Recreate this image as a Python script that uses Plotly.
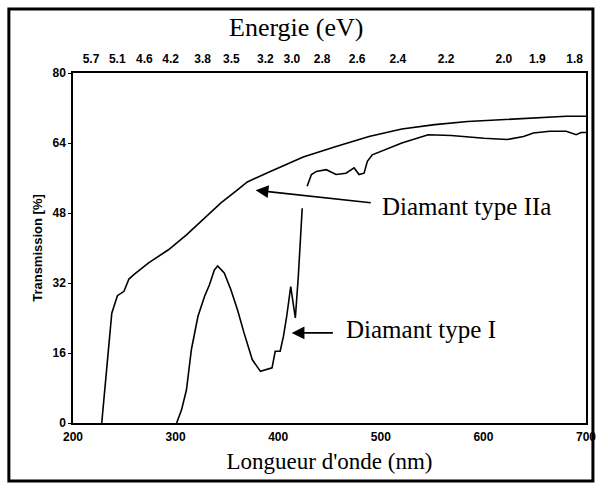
import plotly.graph_objects as go

# Diamant type IIa transmission spectrum (nm, %)
iia_nm = [228, 233, 237.8, 243.3, 249.7, 254.5, 259.3, 273.7, 293, 310.6, 328.2,
          344.2, 360.3, 369.9, 392.3, 424.4, 456.4, 488.5, 520.5, 552.6, 584.6,
          616.7, 648.7, 680.8, 700]
iia_t = [0, 12, 25.1, 29.1, 30.1, 32.9, 33.9, 36.6, 39.6, 43.0, 46.8,
         50.3, 53.3, 55.1, 57.5, 60.8, 63.2, 65.5, 67.2, 68.2, 68.9,
         69.3, 69.7, 70.1, 70.1]

# Diamant type I transmission spectrum (nm, %); None marks the break in the trace
i_nm = [301, 305.8, 310.6, 315.4, 321.8, 328.2, 333, 337.8, 341, 347.4, 353.8,
        360.3, 366.7, 374.7, 382.7, 389.1, 394, 397.1, 401.9, 405.1, 408.3,
        412.2, 414.7, 416.7, 419.6, 423.4, None,
        428.2, 432.4, 437.2, 446.8, 456.4, 466, 474, 478.8, 483.7, 486.9,
        491.7, 504.5, 520.5, 546.2, 568.6, 600.6, 623, 639.1, 648.7, 664.7,
        680.8, 690.4, 695.2, 700]
i_t = [0, 3.0, 7.6, 16.8, 24.4, 28.9, 31.6, 35.0, 35.9, 34.3, 30.5,
       25.9, 20.6, 14.5, 11.8, 12.2, 12.6, 16.4, 16.4, 19.8, 24.4,
       31.2, 27.4, 24.0, 33.5, 49.1, None,
       54.1, 56.8, 57.5, 57.9, 56.8, 57.1, 58.3, 56.8, 57.1, 59.8,
       61.3, 62.5, 64.0, 65.9, 65.7, 65.1, 64.8, 65.5, 66.3, 66.7,
       66.7, 65.9, 66.4, 66.4]

x_ticks = [200, 300, 400, 500, 600, 700]
y_ticks = [0, 16, 32, 48, 64, 80]
energy_ticks = [5.7, 5.1, 4.6, 4.2, 3.8, 3.5, 3.2, 3.0, 2.8, 2.6, 2.4, 2.2, 2.0, 1.9, 1.8]
energy_pos = [1240.0 / e for e in energy_ticks]

tick_font = dict(family="Liberation Sans", size=12, color="black")
serif = "Times New Roman, Times, DejaVu Serif, serif"

fig = go.Figure()
fig.add_trace(go.Scatter(x=iia_nm, y=iia_t, mode="lines",
                         line=dict(color="black", width=1.6), showlegend=False))
fig.add_trace(go.Scatter(x=i_nm, y=i_t, mode="lines", connectgaps=False,
                         line=dict(color="black", width=1.6), showlegend=False))

fig.update_layout(
    width=608, height=489,
    margin=dict(l=73, r=15, t=73, b=66),
    paper_bgcolor="white", plot_bgcolor="white",
    xaxis=dict(range=[200, 700], tickvals=x_ticks, ticktext=[f"<b>{v}</b>" for v in x_ticks],
               tickfont=tick_font, showgrid=False, zeroline=False,
               showline=True, linecolor="black", linewidth=1.5, mirror=True,
               ticks="", ticklabelstandoff=2,
               title=dict(text="Longueur d'onde (nm)", standoff=10,
                          font=dict(family=serif, size=23, color="black"))),
    xaxis2=dict(range=[200, 700], overlaying="x", side="top", anchor="y",
                tickvals=energy_pos, ticktext=[f"<b>{e:.1f}</b>" for e in energy_ticks],
                tickfont=tick_font, showgrid=False, zeroline=False, ticks="",
                showline=False, ticklabelstandoff=7),
    yaxis=dict(range=[0, 80], tickvals=y_ticks, ticktext=[f"<b>{v}</b>" for v in y_ticks],
               tickfont=tick_font, showgrid=False, zeroline=False,
               showline=True, linecolor="black", linewidth=1.5, mirror=True,
               ticks="outside", ticklen=3, tickcolor="black",
               title=dict(text="<b>Transmission [%]</b>", standoff=7,
                          font=dict(family="Liberation Sans", size=13, color="black"))),
)

# invisible trace that carries the top energy axis
fig.add_trace(go.Scatter(x=[200, 700], y=[None, None], xaxis="x2", mode="lines",
                         showlegend=False, hoverinfo="skip"))

# top axis title
fig.add_annotation(x=0.435, y=1.13, xref="paper", yref="paper", text="Energie (eV)",
                   showarrow=False, xanchor="center", yanchor="middle",
                   font=dict(family=serif, size=26, color="black"))

# outer frame around the whole figure
fig.add_shape(type="rect", xref="paper", yref="paper",
              x0=-0.125, x1=1.0135, y0=-0.166, y1=1.183,
              line=dict(color="black", width=3))

ann_font = dict(family=serif, size=25, color="black")
fig.add_annotation(x=378, y=53.2, ax=491.7, ay=50.3, xref="x", yref="y",
                   axref="x", ayref="y", text="", showarrow=True,
                   arrowhead=2, arrowsize=1.6, arrowwidth=1.6, arrowcolor="black")
fig.add_annotation(x=499.7, y=49.5, xref="x", yref="y", text="Diamant type IIa",
                   showarrow=False, xanchor="left", font=ann_font)
fig.add_annotation(x=413.1, y=20.6, ax=454.8, ay=20.6, xref="x", yref="y",
                   axref="x", ayref="y", text="", showarrow=True,
                   arrowhead=2, arrowsize=1.6, arrowwidth=1.6, arrowcolor="black")
fig.add_annotation(x=464.4, y=21.3, xref="x", yref="y", text="Diamant type I",
                   showarrow=False, xanchor="left", font=ann_font)

fig.write_html("out.html")
